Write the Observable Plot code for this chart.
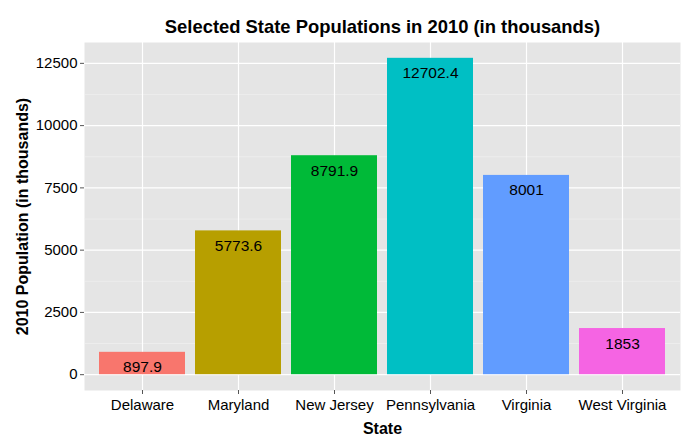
<!DOCTYPE html>
<html>
<head>
<meta charset="utf-8">
<script src="https://cdn.jsdelivr.net/npm/d3@7"></script>
<script src="https://cdn.jsdelivr.net/npm/@observablehq/plot@0.6"></script>
<style>
  body { margin: 0; background: white; }
</style>
</head>
<body>
<div id="chart"></div>
<script>
const states = ["Delaware", "Maryland", "New Jersey", "Pennsylvania", "Virginia", "West Virginia"];
const populations = [897.9, 5773.6, 8791.9, 12702.4, 8001, 1853];
const labels = ["897.9", "5773.6", "8791.9", "12702.4", "8001", "1853"];
const colors = ["#F8766D", "#B79F00", "#00BA38", "#00BFC4", "#619CFF", "#F564E3"];
const majorTicks = [0, 2500, 5000, 7500, 10000, 12500];
const minorTicks = [1250, 3750, 6250, 8750, 11250];
const title = "Selected State Populations in 2010 (in thousands)";
const xTitle = "State";
const yTitle = "2010 Population (in thousands)";

const data = states.map((s, i) => ({state: s, pop: populations[i], label: labels[i]}));
const maxV = d3.max(populations);
const pad = maxV * 0.05;

const chart = Plot.plot({
  width: 700,
  height: 443,
  marginLeft: 84,
  marginRight: 20,
  marginTop: 42,
  marginBottom: 53,
  style: {fontFamily: "'Liberation Sans', Arial, sans-serif", fontSize: "15px", background: "white", color: "black"},
  x: {domain: states, paddingInner: 0.1, paddingOuter: 0.15, align: 0.5, label: null},
  y: {domain: [-pad, maxV + pad], label: null},
  color: {domain: states, range: colors},
  marks: [
    Plot.frame({fill: "#E5E5E5", stroke: null}),
    Plot.gridY(minorTicks, {stroke: "#F2F2F2", strokeOpacity: 1, strokeWidth: 0.6}),
    Plot.gridY(majorTicks, {stroke: "white", strokeOpacity: 1, strokeWidth: 1.2}),
    Plot.gridX({stroke: "white", strokeOpacity: 1, strokeWidth: 1.2}),
    Plot.barY(data, {x: "state", y: "pop", fill: "state"}),
    Plot.text(data, {x: "state", y: "pop", text: "label", dy: 15, fontSize: 15.5, fill: "black"}),
    Plot.axisY(majorTicks, {tickSize: 4, tickPadding: 3, stroke: "#555", fill: "black", fontSize: 15, tickFormat: d => String(d), label: null}),
    Plot.axisX({tickSize: 4, tickPadding: 5, stroke: "#555", fill: "black", fontSize: 15, label: null}),
    Plot.text([title], {frameAnchor: "top", dy: -23, fontWeight: "bold", fontSize: 18.4, fill: "black"}),
    Plot.text([xTitle], {frameAnchor: "bottom", dy: 43, fontWeight: "bold", fontSize: 16, fill: "black"}),
    Plot.text([yTitle], {frameAnchor: "left", dx: -62, rotate: -90, textAnchor: "middle", fontWeight: "bold", fontSize: 16, fill: "black"})
  ]
});
document.getElementById("chart").appendChild(chart);
</script>
</body>
</html>
